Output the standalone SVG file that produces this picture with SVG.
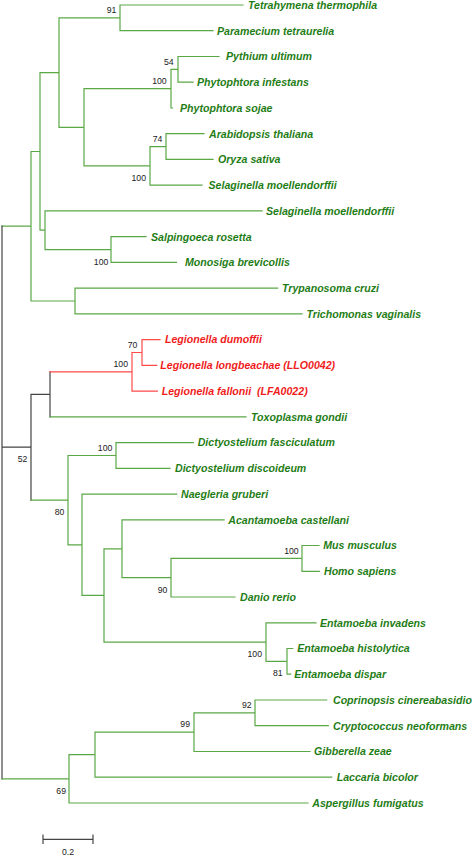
<svg xmlns="http://www.w3.org/2000/svg" width="472" height="857" viewBox="0 0 472 857">
<style>
.g{stroke:#5aa845;fill:none;stroke-width:1.2;stroke-linecap:square}
.r{stroke:#ff4a4a;fill:none;stroke-width:1.2;stroke-linecap:square}
.k{stroke:#444;fill:none;stroke-width:1.2;stroke-linecap:square}
.t{font-family:"Liberation Sans",Arial,sans-serif;font-size:10.6px;font-weight:bold;font-style:italic;fill:#1f7d16}
.tr{fill:#f01c1c}
.b{font-family:"Liberation Sans",Arial,sans-serif;font-size:8.7px;fill:#222;text-anchor:end}
.s{font-family:"Liberation Sans",Arial,sans-serif;font-size:8.7px;fill:#222;text-anchor:middle}
</style>
<rect width="472" height="857" fill="#fff"/>
<g id="connectors">
<path class="g" d="M2 226.2H31M31 151.5V301M31 151.5H40M40 72.6V230.2M40 72.6H59M59 17.9V127.3M59 17.9H120M120 5V30.7M120 5H243M120 30.7H213M59 127.3H84M84 88.7V165.9M84 88.7H171M171 69.3V108M171 69.3H178M178 56.5V82.2M178 56.5H219M178 82.2H193M171 108H172.5M84 165.9H150M150 146.6V185.2M150 146.6H166M166 133.7V159.4M166 133.7H204M166 159.4H213M150 185.2H202M40 230.2H45M45 210.9V249.6M45 210.9H262M45 249.6H111M111 236.7V262.4M111 236.7H146M111 262.4H176.5M31 301H75M75 288.1V313.9M75 288.1H277.7M75 313.9H302"/>
<path class="k" d="M2 226.2V778.9M2 447.2H31M31 394.3V500.1M31 394.3H50M50 371.8V416.8"/>
<path class="r" d="M50 371.8H132M132 352.5V391.1M132 352.5H142M142 339.6V365.4M142 339.6H160M142 365.4H156.7M132 391.1H157.3"/>
<path class="g" d="M50 416.8H246M31 500.1H68M68 455.5V544.8M68 455.5H116M116 442.6V468.3M116 442.6H193.3M116 468.3H170M68 544.8H82M82 494.1V595.4M82 494.1H176.7M82 595.4H104M104 548.8V642.1M104 548.8H122M122 519.8V577.7M122 519.8H224M122 577.7H171M171 558.4V597M171 558.4H302M302 545.5V571.3M302 545.5H319M302 571.3H319.3M171 597H235M104 642.1H266M266 622.8V661.4M266 622.8H316M266 661.4H287M287 648.5V674.2M287 648.5H292.7M287 674.2H290.7M2 778.9H69M69 754.7V803M69 754.7H95M95 732.2V777.2M95 732.2H194M194 712.9V751.5M194 712.9H255M255 700V725.7M255 700H326.7M255 725.7H328.3M194 751.5H310M95 777.2H331.7M69 803H308"/>
</g>
<g id="leaf-tetrahymena"><text class="t" x="248" y="8.8">Tetrahymena thermophila</text></g>
<g id="leaf-paramecium"><text class="t" x="217" y="34.5">Paramecium tetraurelia</text></g>
<g id="leaf-pythium"><text class="t" x="226" y="60.3">Pythium ultimum</text></g>
<g id="leaf-phytophtora-infestans"><text class="t" x="197" y="86">Phytophtora infestans</text></g>
<g id="leaf-phytophtora-sojae"><text class="t" x="180" y="111.8">Phytophtora sojae</text></g>
<g id="leaf-arabidopsis"><text class="t" x="209" y="137.5">Arabidopsis thaliana</text></g>
<g id="leaf-oryza"><text class="t" x="218" y="163.2">Oryza sativa</text></g>
<g id="leaf-selaginella-1"><text class="t" x="208.5" y="189">Selaginella moellendorffii</text></g>
<g id="leaf-selaginella-2"><text class="t" x="266" y="214.7">Selaginella moellendorffii</text></g>
<g id="leaf-salpingoeca"><text class="t" x="151" y="240.5">Salpingoeca rosetta</text></g>
<g id="leaf-monosiga"><text class="t" x="185" y="266.2">Monosiga brevicollis</text></g>
<g id="leaf-trypanosoma"><text class="t" x="282" y="291.9">Trypanosoma cruzi</text></g>
<g id="leaf-trichomonas"><text class="t" x="306.5" y="317.7">Trichomonas vaginalis</text></g>
<g id="leaf-legionella-dumoffii"><text class="t tr" x="165" y="343.4">Legionella dumoffii</text></g>
<g id="leaf-legionella-longbeachae"><text class="t tr" x="160.3" y="369.2">Legionella longbeachae (LLO0042)</text></g>
<g id="leaf-legionella-fallonii"><text class="t tr" x="161.7" y="394.9" xml:space="preserve">Legionella fallonii  (LFA0022)</text></g>
<g id="leaf-toxoplasma"><text class="t" x="251" y="420.6">Toxoplasma gondii</text></g>
<g id="leaf-dictyostelium-fasciculatum"><text class="t" x="197.7" y="446.4">Dictyostelium fasciculatum</text></g>
<g id="leaf-dictyostelium-discoideum"><text class="t" x="175" y="472.1">Dictyostelium discoideum</text></g>
<g id="leaf-naegleria"><text class="t" x="181" y="497.9">Naegleria gruberi</text></g>
<g id="leaf-acantamoeba"><text class="t" x="228.3" y="523.6">Acantamoeba castellani</text></g>
<g id="leaf-mus"><text class="t" x="323.3" y="549.3">Mus musculus</text></g>
<g id="leaf-homo"><text class="t" x="324" y="575.1">Homo sapiens</text></g>
<g id="leaf-danio"><text class="t" x="240" y="600.8">Danio rerio</text></g>
<g id="leaf-entamoeba-invadens"><text class="t" x="320" y="626.6">Entamoeba invadens</text></g>
<g id="leaf-entamoeba-histolytica"><text class="t" x="297.3" y="652.3">Entamoeba histolytica</text></g>
<g id="leaf-entamoeba-dispar"><text class="t" x="294.3" y="678">Entamoeba dispar</text></g>
<g id="leaf-coprinopsis"><text class="t" x="333" y="703.8">Coprinopsis cinereabasidio</text></g>
<g id="leaf-cryptococcus"><text class="t" x="333" y="729.5">Cryptococcus neoformans</text></g>
<g id="leaf-gibberella"><text class="t" x="314" y="755.3">Gibberella zeae</text></g>
<g id="leaf-laccaria"><text class="t" x="336.7" y="781">Laccaria bicolor</text></g>
<g id="leaf-aspergillus"><text class="t" x="312.3" y="806.8">Aspergillus fumigatus</text></g>
<g id="bootstrap">
<text class="b" x="116.3" y="13">91</text>
<text class="b" x="173.7" y="65">54</text>
<text class="b" x="166.7" y="83.5">100</text>
<text class="b" x="162.3" y="141.6">74</text>
<text class="b" x="146" y="181">100</text>
<text class="b" x="108.3" y="264.5">100</text>
<text class="b" x="137.3" y="347.5">70</text>
<text class="b" x="128" y="366.8">100</text>
<text class="b" x="27.3" y="462">52</text>
<text class="b" x="112.3" y="450.5">100</text>
<text class="b" x="64.3" y="515">80</text>
<text class="b" x="298.7" y="553.5">100</text>
<text class="b" x="167.3" y="592.7">90</text>
<text class="b" x="262" y="657">100</text>
<text class="b" x="282.7" y="676">81</text>
<text class="b" x="251.7" y="708">92</text>
<text class="b" x="190" y="727.3">99</text>
<text class="b" x="66" y="794">69</text>
</g>
<g id="scale-bar">
<path class="k" d="M43 839.3H93M43 835V843.5M93 835V843.5" stroke-linecap="butt"/>
<text class="s" x="68" y="855">0.2</text>
</g>
</svg>
